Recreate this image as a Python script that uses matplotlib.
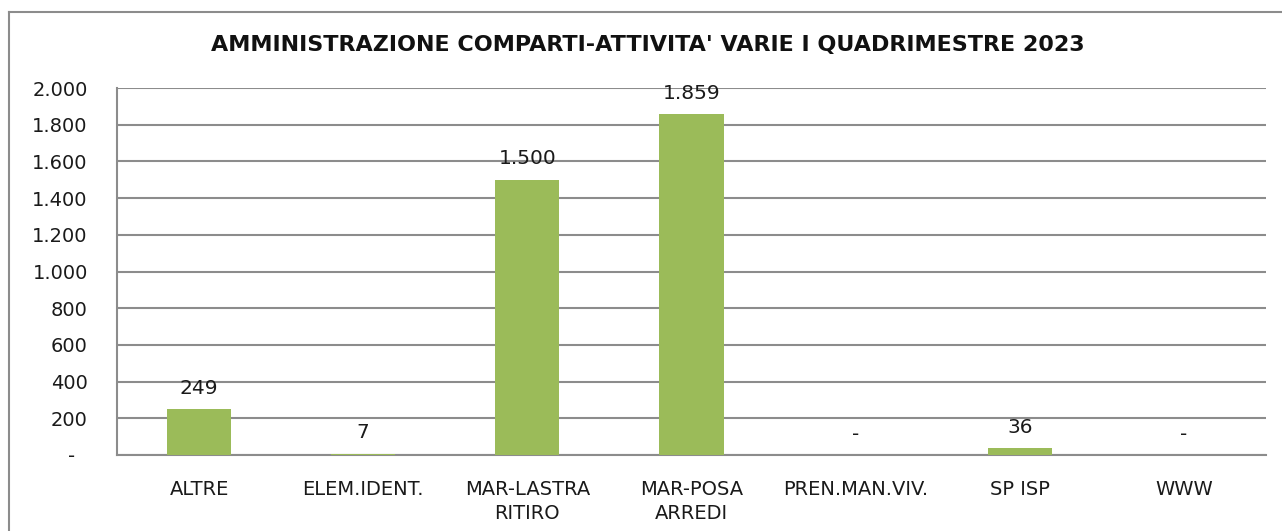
import matplotlib
matplotlib.use("Agg")
import matplotlib.pyplot as plt
from matplotlib.ticker import FuncFormatter, MultipleLocator
from matplotlib.lines import Line2D

categories = ["ALTRE", "ELEM.IDENT.", "MAR-LASTRA\nRITIRO", "MAR-POSA\nARREDI",
              "PREN.MAN.VIV.", "SP ISP", "WWW"]
values = [249, 7, 1500, 1859, 0, 36, 0]
title = "AMMINISTRAZIONE COMPARTI-ATTIVITA' VARIE I QUADRIMESTRE 2023"

FONT = "DejaVu Sans"
BAR = "#9BBB59"
GRID = "#8C8C8C"

def fmt(v):
    if v == 0:
        return "-"
    return f"{int(v):,}".replace(",", ".")

W, H = 1282, 531
fig = plt.figure(figsize=(W / 100, H / 100), dpi=100)
ax = fig.add_axes([117 / W, 1 - 455 / H, (1266 - 117) / W, (455 - 88) / H])

x = list(range(len(categories)))
bars = ax.bar(x, values, width=0.39, color=BAR, zorder=3)
ax.set_xlim(-0.5, len(categories) - 0.5)
ax.set_ylim(0, 2000)
ax.yaxis.set_major_locator(MultipleLocator(200))
ax.yaxis.set_major_formatter(FuncFormatter(lambda v, p: "-  " if v == 0 else fmt(v)))
ax.grid(axis="y", color=GRID, linewidth=1.5, zorder=0)
for s in ["top", "right"]:
    ax.spines[s].set_visible(False)
for s in ["left", "bottom"]:
    ax.spines[s].set_color(GRID)
    ax.spines[s].set_linewidth(1.5)
ax.tick_params(axis="y", length=0, pad=21, labelsize=14, labelcolor="#1a1a1a")
ax.tick_params(axis="x", length=0, pad=18, labelsize=14, labelcolor="#1a1a1a")
ax.set_xticks(x)
ax.set_xticklabels(categories, fontfamily=FONT, linespacing=1.35)
for lbl in ax.get_yticklabels():
    lbl.set_fontfamily(FONT)

for xi, v in zip(x, values):
    ax.annotate(fmt(v), xy=(xi, v), xytext=(0, 15), textcoords="offset points",
                ha="center", va="center", fontsize=14.5, fontfamily=FONT,
                color="#1a1a1a")

fig.text(648 / W, 1 - 45 / H, title, ha="center", va="center", fontsize=16,
         fontweight="bold", fontfamily=FONT, color="#111111")

# chart area border (top and left visible)
fig.add_artist(Line2D([9 / W, 1.0], [1 - 12 / H, 1 - 12 / H], transform=fig.transFigure,
                      color="#8C8C8C", linewidth=1.5))
fig.add_artist(Line2D([9 / W, 9 / W], [0, 1 - 12 / H], transform=fig.transFigure,
                      color="#8C8C8C", linewidth=1.5))

fig.savefig("out.png", dpi=100, facecolor="white")
